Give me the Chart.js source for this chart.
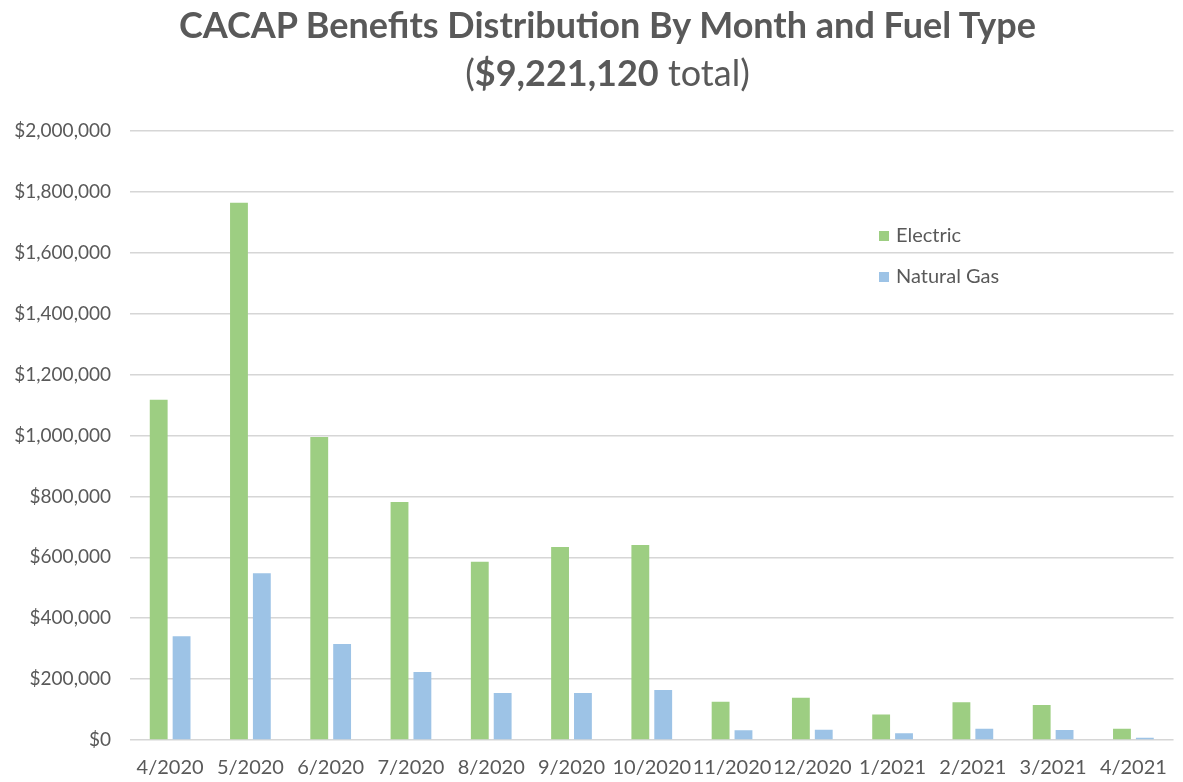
<!DOCTYPE html>
<html>
<head>
<meta charset="utf-8">
<script src="https://cdn.jsdelivr.net/npm/chart.js@4/dist/chart.umd.min.js"></script>
<style>
  html, body { margin: 0; padding: 0; background: #fff; }
  #wrap { position: relative; width: 1183px; height: 782px; overflow: hidden; }
  #title { position: absolute; left: 0; top: 0; width: 1215px; text-align: center; color: #595959;
           font-family: Lato, "Open Sans", sans-serif; line-height: 48px; font-size: 36px; }
  #title .l1 { font-weight: bold; display: block; }
  #title .l2 { display: block; }
  #legend { position: absolute; left: 879px; top: 219px; font-family: Lato, "Open Sans", sans-serif;
            font-size: 20px; color: #595959; }
  #legend .item { height: 41px; line-height: 30px; }
  #legend .sw { display: inline-block; width: 10px; height: 10px; margin-right: 7px; vertical-align: 1px; }
  canvas { position: absolute; left: 0; top: 0; }
</style>
</head>
<body>
<div id="wrap">
  <canvas id="c" width="1183" height="782"></canvas>
  <div id="title"><span class="l1">CACAP Benefits Distribution By Month and Fuel Type</span><span class="l2">(<b>$9,221,120</b> total)</span></div>
  <div id="legend"></div>
</div>
<script>
const categories = ["4/2020","5/2020","6/2020","7/2020","8/2020","9/2020","10/2020","11/2020","12/2020","1/2021","2/2021","3/2021","4/2021"];
const electric = [1117000, 1764000, 995000, 782000, 585000, 634000, 640000, 126000, 139000, 84000, 124000, 115000, 37000];
const naturalGas = [341000, 548000, 315000, 223000, 154000, 154000, 164000, 32000, 34000, 22000, 37000, 33000, 7000];
const seriesNames = ["Electric", "Natural Gas"];
const seriesColors = ["#9DCE82", "#9DC3E6"];
const yTickMax = 2000000;
const yTickStep = 200000;

const fontFamily = 'Lato, "Open Sans", sans-serif';
const datasets = [electric, naturalGas].map((d, i) => ({
  label: seriesNames[i],
  data: d,
  backgroundColor: seriesColors[i],
  borderWidth: 0,
  categoryPercentage: 0.57,
  barPercentage: 0.78
}));

new Chart(document.getElementById('c'), {
  type: 'bar',
  data: { labels: categories, datasets },
  options: {
    responsive: false,
    animation: false,
    layout: { padding: { top: 131, right: 2, left: 0, bottom: 0 } },
    plugins: { legend: { display: false }, title: { display: false }, tooltip: { enabled: false } },
    scales: {
      x: {
        grid: { display: false, drawTicks: false },
        border: { display: false },
        ticks: { color: '#595959', font: { family: fontFamily, size: 20 }, padding: 16, maxRotation: 0, autoSkip: false },
        afterFit: s => { s.height = 42; }
      },
      y: {
        min: 0, max: yTickMax,
        grid: { color: '#D6D6D6', lineWidth: 1.6, drawTicks: false },
        border: { display: false },
        ticks: {
          stepSize: yTickStep, padding: 19, color: '#595959',
          font: { family: fontFamily, size: 19 },
          callback: v => '$' + Number(v).toLocaleString('en-US')
        },
        afterFit: s => { s.width = 130; }
      }
    }
  }
});

const lg = document.getElementById('legend');
seriesNames.forEach((n, i) => {
  const d = document.createElement('div');
  d.className = 'item';
  d.innerHTML = '<span class="sw" style="background:' + seriesColors[i] + '"></span>' + n;
  lg.appendChild(d);
});
</script>
</body>
</html>
